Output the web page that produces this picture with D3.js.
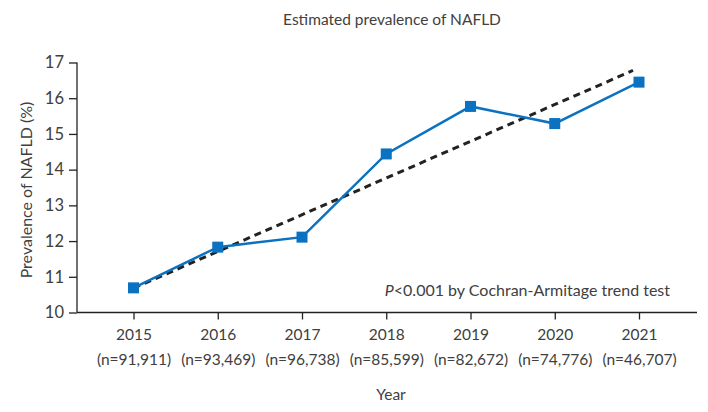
<!DOCTYPE html>
<html><head><meta charset="utf-8">
<script src="https://cdn.jsdelivr.net/npm/d3@7"></script>
<style>body{margin:0;background:#fff}svg text{font-family:Lato,sans-serif;fill:#404040}</style>
</head><body><svg id="c" width="708" height="412"></svg>
<script>
const years = ["2015","2016","2017","2018","2019","2020","2021"];
const sampleSizes = ["91,911","93,469","96,738","85,599","82,672","74,776","46,707"];
const prevalence = [10.69, 11.83, 12.11, 14.44, 15.77, 15.29, 16.45];
const trendEnds = [{year:"2015", v:10.68}, {year:"2021", v:16.85}];
const yTicks = [10,11,12,13,14,15,16,17];

const svg = d3.select("#c");
const x = d3.scalePoint().domain(years).range([133.5, 639]);
const y = d3.scaleLinear().domain([10,17]).range([312.5, 62.5]);
const axisX0 = 77, axisX1 = 697;
const FONT = "Lato,sans-serif";

// axes
const gy = svg.append("g").attr("transform",`translate(${axisX0},0)`)
  .call(d3.axisLeft(y).tickValues(yTicks).tickFormat(d3.format("d")).tickSize(8).tickPadding(5));
gy.select(".domain").attr("d",`M0,${y(17)}V${y(10)}`);
gy.selectAll("line,path").attr("stroke","#222").attr("stroke-width",1.3);
gy.selectAll("text").style("font-size","16.5px").attr("fill","#404040").style("font-family",FONT);

const gx = svg.append("g").attr("transform",`translate(0,${y(10)})`)
  .call(d3.axisBottom(x).tickSize(7).tickFormat(""));
gx.select(".domain").attr("d",`M${axisX0},0H${axisX1}`);
gx.selectAll("line,path").attr("stroke","#222").attr("stroke-width",1.3);
gx.selectAll(".tick").each(function(d,i){
  const t = d3.select(this).append("text").attr("text-anchor","middle")
    .style("font-size","15.5px").style("font-family",FONT).attr("fill","#404040");
  t.append("tspan").attr("x",0).attr("y",27).text(d);
  t.append("tspan").attr("x",0).attr("y",52).text(`(n=${sampleSizes[i]})`);
});

// trend line
const tx1 = x(trendEnds[0].year), tx2 = x(trendEnds[1].year);
const cut = 6;
const tEndV = trendEnds[1].v - (trendEnds[1].v-trendEnds[0].v)*cut/(tx2-tx1);
svg.append("line")
  .attr("x1", tx1).attr("y1", y(trendEnds[0].v))
  .attr("x2", tx2-cut).attr("y2", y(tEndV))
  .attr("stroke","#222").attr("stroke-width",3).attr("stroke-dasharray","7,5");

// data line
const line = d3.line().x((d,i)=>x(years[i])).y(d=>y(d));
svg.append("path").datum(prevalence).attr("d",line)
  .attr("fill","none").attr("stroke","#0a72c0").attr("stroke-width",2.5);
svg.selectAll("rect.m").data(prevalence).join("rect").attr("class","m")
  .attr("x",(d,i)=>x(years[i])-5.5).attr("y",d=>y(d)-5.5)
  .attr("width",11).attr("height",11).attr("fill","#0a72c0");

// texts
svg.append("text").attr("x",392).attr("y",25).attr("text-anchor","middle")
  .style("font-size","15.5px").text("Estimated prevalence of NAFLD");
const p = svg.append("text").attr("x",670).attr("y",296).attr("text-anchor","end").style("font-size","16px");
p.append("tspan").style("font-style","italic").text("P");
p.append("tspan").text("<0.001 by Cochran-Armitage trend test");
svg.append("text").attr("transform","translate(32,190) rotate(-90)").attr("text-anchor","middle")
  .style("font-size","16px").text("Prevalence of NAFLD (%)");
svg.append("text").attr("x",391).attr("y",400).attr("text-anchor","middle")
  .style("font-size","15.5px").text("Year");
</script></body></html>
